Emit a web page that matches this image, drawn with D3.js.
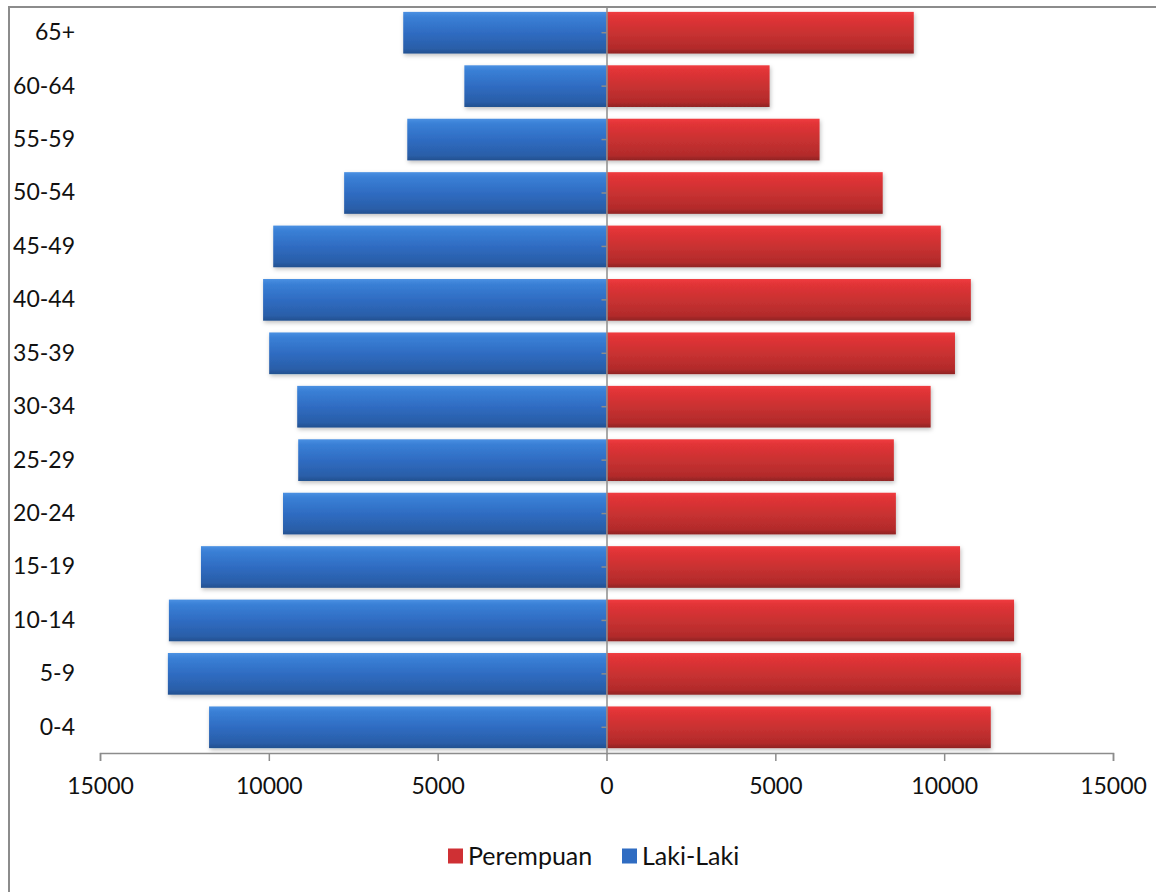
<!DOCTYPE html>
<html>
<head>
<meta charset="utf-8">
<script src="https://cdn.jsdelivr.net/npm/d3@7"></script>
<style>
  body { margin: 0; background: #fff; }
  svg text { font-family: Lato, "Open Sans", sans-serif; fill: #111; }
</style>
</head>
<body>
<div id="chart"></div>
<script>
const width = 1156;
const height = 892;

// age groups, bottom to top as in the source table
const ageGroups = ['0-4', '5-9', '10-14', '15-19', '20-24', '25-29', '30-34',
    '35-39', '40-44', '45-49', '50-54', '55-59', '60-64', '65+'];
const lakiLaki = [11770, 12990, 12960, 12010, 9580, 9130, 9160,
    9990, 10170, 9870, 7770, 5900, 4210, 6020];
const perempuan = [11380, 12270, 12070, 10470, 8570, 8510, 9600,
    10320, 10790, 9900, 8180, 6310, 4830, 9100];
const xTicks = [-15000, -10000, -5000, 0, 5000, 10000, 15000];

const rows = ageGroups.map((g, i) => ({ group: g, male: lakiLaki[i], female: perempuan[i] }));

const svg = d3.select('#chart')
    .append('svg')
    .attr('width', width)
    .attr('height', height);

const defs = svg.append('defs');

function gradient(id, stops) {
    const g = defs.append('linearGradient')
        .attr('id', id)
        .attr('x1', 0).attr('y1', 0)
        .attr('x2', 0).attr('y2', 1);
    stops.forEach(([o, c]) => g.append('stop').attr('offset', o).attr('stop-color', c));
}
gradient('blueGrad', [[0, '#4a90e2'], [0.12, '#3a80d6'], [0.5, '#2f6cc2'], [0.88, '#2a5ea8'], [1, '#22508f']]);
gradient('redGrad', [[0, '#f03c40'], [0.12, '#e23437'], [0.5, '#c93131'], [0.88, '#b22b2b'], [1, '#8f2323']]);

defs.append('filter')
    .attr('id', 'shadow')
    .attr('x', '-5%').attr('y', '-20%')
    .attr('width', '110%').attr('height', '150%')
    .append('feDropShadow')
    .attr('dx', 1).attr('dy', 2)
    .attr('stdDeviation', 2)
    .attr('flood-color', '#000')
    .attr('flood-opacity', 0.25);

// outer frame (right and bottom edges fall outside the picture)
svg.append('rect')
    .attr('x', 9)
    .attr('y', 7)
    .attr('width', 1170)
    .attr('height', 910)
    .attr('fill', 'none')
    .attr('stroke', '#8c8c8c')
    .attr('stroke-width', 2);

const xScale = d3.scaleLinear()
    .domain([-15000, 15000])
    .range([100, 1113]);

const yScale = d3.scaleBand()
    .domain(ageGroups.slice().reverse())
    .range([6, 754])
    .paddingInner(0.22)
    .paddingOuter(0.11);

const bars = svg.append('g').attr('filter', 'url(#shadow)');

bars.selectAll('.male')
    .data(rows)
    .enter()
    .append('rect')
    .attr('class', 'male')
    .attr('x', d => xScale(-d.male))
    .attr('y', d => yScale(d.group))
    .attr('width', d => xScale(0) - xScale(-d.male))
    .attr('height', yScale.bandwidth())
    .attr('fill', 'url(#blueGrad)');

bars.selectAll('.female')
    .data(rows)
    .enter()
    .append('rect')
    .attr('class', 'female')
    .attr('x', xScale(0))
    .attr('y', d => yScale(d.group))
    .attr('width', d => xScale(d.female) - xScale(0))
    .attr('height', yScale.bandwidth())
    .attr('fill', 'url(#redGrad)');

// category axis at zero
const yAxis = svg.append('g')
    .attr('transform', `translate(${xScale(0)}, 0)`)
    .call(d3.axisLeft(yScale).tickSize(5).tickSizeOuter(0).tickFormat(''));
yAxis.select('.domain').attr('stroke', '#8c8c8c').attr('stroke-width', 1.5);
yAxis.selectAll('.tick line').attr('stroke', '#8c8c8c').attr('stroke-width', 1.5);

// category labels on the left
const yLabels = svg.append('g')
    .attr('transform', 'translate(75, 0)')
    .call(d3.axisLeft(yScale).tickSize(0).tickPadding(0));
yLabels.select('.domain').remove();
yLabels.selectAll('text')
    .style('font-size', '23px')
    .attr('fill', '#111');

// value axis
const xAxis = svg.append('g')
    .attr('transform', `translate(0, ${yScale.range()[1] - 1})`)
    .call(d3.axisBottom(xScale)
        .tickValues(xTicks)
        .tickFormat(d => Math.abs(d))
        .tickSize(8)
        .tickSizeOuter(8)
        .tickPadding(17));
xAxis.select('.domain').attr('stroke', '#8c8c8c').attr('stroke-width', 1.5);
xAxis.selectAll('.tick line').attr('stroke', '#8c8c8c').attr('stroke-width', 1.5);
xAxis.selectAll('text')
    .style('font-size', '23px')
    .attr('fill', '#111');

// legend
const legend = svg.append('g')
    .attr('transform', 'translate(448, 856)');

const legendItems = [
    { label: 'Perempuan', color: '#cf3034', x: 0 },
    { label: 'Laki-Laki', color: '#2f6cc2', x: 174 }
];

legendItems.forEach(item => {
    legend.append('rect')
        .attr('x', item.x)
        .attr('y', -7.5)
        .attr('width', 15)
        .attr('height', 15)
        .attr('fill', item.color);
    legend.append('text')
        .attr('x', item.x + 20)
        .attr('y', 0)
        .attr('dy', '0.35em')
        .style('font-size', '25px')
        .text(item.label);
});
</script>
</body>
</html>
